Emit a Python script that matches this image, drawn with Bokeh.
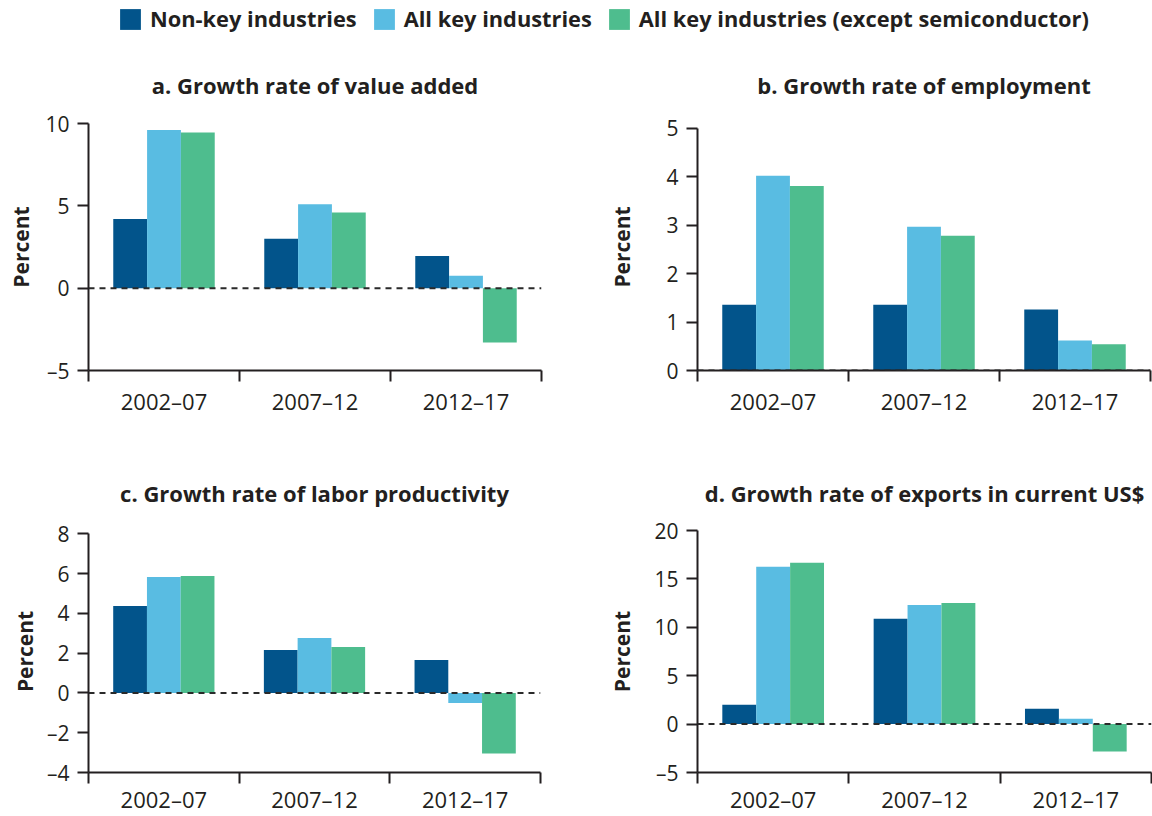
from bokeh.plotting import figure
from bokeh.models import Range1d, FixedTicker, LinearAxis, Span, Legend, LegendItem, ColumnDataSource
from bokeh.layouts import column, row
from bokeh.transform import dodge
from bokeh.embed import file_html
from bokeh.resources import INLINE

# ---------------- data ----------------
periods = ["2002–07", "2007–12", "2012–17"]
series_names = ["Non-key industries", "All key industries",
                "All key industries (except semiconductor)"]
series_colors = ["#02548B", "#59BCE2", "#4EBD8E"]

panel_titles = ["a. Growth rate of value added", "b. Growth rate of employment",
                "c. Growth rate of labor productivity", "d. Growth rate of exports in current US$"]

value_added_nonkey = [4.2, 3.0, 1.95]
value_added_allkey = [9.6, 5.1, 0.75]
value_added_exsemi = [9.45, 4.6, -3.3]

employment_nonkey = [1.36, 1.36, 1.26]
employment_allkey = [4.02, 2.97, 0.62]
employment_exsemi = [3.81, 2.78, 0.54]

productivity_nonkey = [4.37, 2.16, 1.66]
productivity_allkey = [5.83, 2.76, -0.5]
productivity_exsemi = [5.88, 2.31, -3.05]

exports_nonkey = [1.99, 10.88, 1.58]
exports_allkey = [16.25, 12.3, 0.55]
exports_exsemi = [16.66, 12.5, -2.83]

yticks_a = [-5, 0, 5, 10]
yticks_b = [0, 1, 2, 3, 4, 5]
yticks_c = [-4, -2, 0, 2, 4, 6, 8]
yticks_d = [-5, 0, 5, 10, 15, 20]

y_label = "Percent"

# ---------------- style ----------------
FONT = "Open Sans"
TEXT = "#231F20"
BAR_W = 0.224


def panel(title, values, yticks, top_pad, width, height, left, right, top, bottom,
          label_standoff, title_gap, x_label_standoff):
    p = figure(width=width, height=height, title=title,
               x_range=Range1d(-0.5, len(periods) - 0.5),
               y_range=Range1d(yticks[0], yticks[-1] + top_pad),
               output_backend="svg", toolbar_location=None,
               x_axis_type=None, y_axis_type=None,
               min_border_left=left, min_border_right=right,
               min_border_top=top, min_border_bottom=bottom)
    p.outline_line_color = None
    p.background_fill_color = None
    p.border_fill_color = None

    data = dict(x=list(range(len(periods))))
    for i, v in enumerate(values):
        data[f"s{i}"] = v
    src = ColumnDataSource(data)
    for i, c in enumerate(series_colors):
        p.vbar(x=dodge("x", (i - 1) * BAR_W), top=f"s{i}", bottom=0, width=BAR_W,
               source=src, fill_color=c, line_color=None)

    p.add_layout(Span(location=0, dimension="width", line_color="#2a2a2a",
                      line_dash="6 5", line_width=2))

    xa = LinearAxis(
        ticker=FixedTicker(ticks=list(range(len(periods))),
                           minor_ticks=[k - 0.5 for k in range(len(periods) + 1)]),
        major_label_overrides={i: lab for i, lab in enumerate(periods)},
        major_tick_out=0, major_tick_in=0,
        minor_tick_out=11, minor_tick_in=0,
        minor_tick_line_color=TEXT, minor_tick_line_width=2,
        axis_line_color=TEXT, axis_line_width=2,
        major_label_standoff=x_label_standoff,
        major_label_text_font=FONT, major_label_text_font_size="22px",
        major_label_text_color=TEXT)
    p.add_layout(xa, "below")

    ya = LinearAxis(
        ticker=FixedTicker(ticks=yticks),
        bounds=(yticks[0], yticks[-1]),
        major_label_overrides={t: "–" + str(abs(t)) for t in yticks if t < 0},
        major_tick_out=11, major_tick_in=0,
        major_tick_line_color=TEXT, major_tick_line_width=2,
        axis_line_color=TEXT, axis_line_width=2,
        major_label_standoff=8,
        major_label_text_font=FONT, major_label_text_font_size="21px",
        major_label_text_color=TEXT,
        axis_label=y_label, axis_label_standoff=label_standoff,
        axis_label_text_font=FONT, axis_label_text_font_size="21px",
        axis_label_text_font_style="bold", axis_label_text_color=TEXT)
    p.add_layout(ya, "left")

    p.title.align = "center"
    p.title.vertical_align = "top"
    p.title.standoff = title_gap
    p.title.text_font = FONT
    p.title.text_font_size = "22px"
    p.title.text_font_style = "bold"
    p.title.text_color = TEXT
    return p


pa = panel(panel_titles[0], [value_added_nonkey, value_added_allkey, value_added_exsemi],
           yticks_a, 0.0, 600, 395, 88, 59, 78, 70, 7, 43, 4)
pb = panel(panel_titles[1], [employment_nonkey, employment_allkey, employment_exsemi],
           yticks_b, 0.1, 552, 395, 97, 2, 78, 70, 27, 43, 4)
pc = panel(panel_titles[2], [productivity_nonkey, productivity_allkey, productivity_exsemi],
           yticks_c, 0.17, 600, 376, 88, 60, 90, 44, 5, 42, 0)
pd = panel(panel_titles[3], [exports_nonkey, exports_allkey, exports_exsemi],
           yticks_d, 0.0, 552, 376, 97, 1, 90, 44, 15, 42, 0)

# ---------------- legend ----------------
lf = figure(width=1152, height=45, x_range=Range1d(0, 1), y_range=Range1d(0, 1),
            output_backend="svg", toolbar_location=None, min_border=0,
            x_axis_type=None, y_axis_type=None)
lf.outline_line_color = None
lf.background_fill_color = None
lf.border_fill_color = None
rends = [lf.vbar(x=[5], top=[5], width=0.1, fill_color=c, line_color=None)
         for c in series_colors]
legend = Legend(items=[LegendItem(label=n, renderers=[r]) for n, r in zip(series_names, rends)],
                orientation="horizontal", location=(117, 12),
                glyph_width=26, glyph_height=26, label_standoff=7, spacing=14,
                padding=0, margin=0, border_line_color=None, background_fill_alpha=0,
                label_text_font=FONT, label_text_font_style="bold",
                label_text_font_size="21.8px", label_text_color=TEXT)
lf.add_layout(legend)

layout = column(lf, row(pa, pb), row(pc, pd))
open("out.html", "w").write(file_html(layout, INLINE))
